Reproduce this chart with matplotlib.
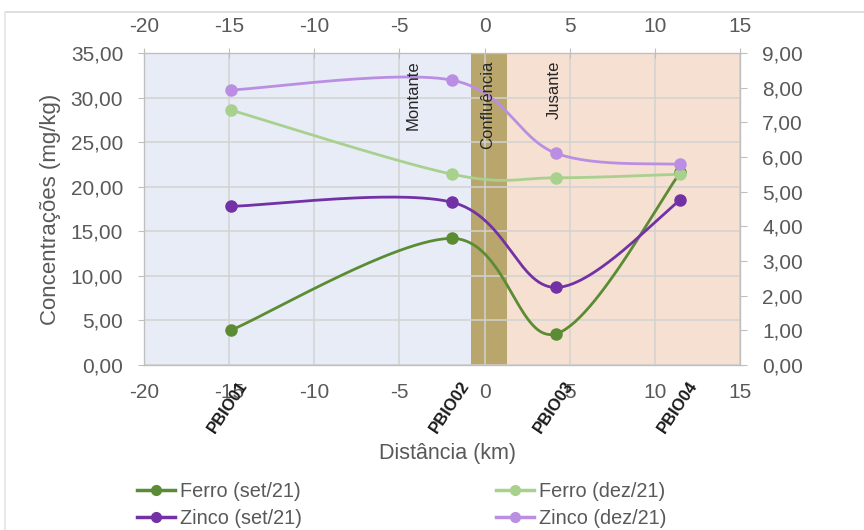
import numpy as np
import matplotlib
matplotlib.use("Agg")
import matplotlib.pyplot as plt
from matplotlib.ticker import FuncFormatter, MultipleLocator
from matplotlib.lines import Line2D

plt.rcParams['font.family'] = ['Liberation Sans', 'DejaVu Sans']
plt.rcParams['axes.unicode_minus'] = False

# sampling points (distance in km) and names
pontos = ['PBIO01', 'PBIO02', 'PBIO03', 'PBIO04']
distancia = [-14.9, -1.9, 4.2, 11.5]

# concentrations (read on left axis scale)
ferro_set = [3.9, 14.2, 3.5, 21.6]
ferro_dez = [28.6, 21.4, 21.0, 21.4]
zinco_set = [17.8, 18.25, 8.7, 18.5]
zinco_dez = [30.85, 31.95, 23.75, 22.5]

series = [
    ('Ferro (set/21)', ferro_set, '#5B8C33'),
    ('Zinco (set/21)', zinco_set, '#7232A6'),
    ('Ferro (dez/21)', ferro_dez, '#A9D18E'),
    ('Zinco (dez/21)', zinco_dez, '#BA8FE3'),
]

# zones along the river
zona_montante = (-20, -0.8)
zona_confluencia = (-0.8, 1.3)
zona_jusante = (1.3, 15)

GRAY = '#595959'
GRID = '#D2D2D2'
TICK_FS = 15


def smooth(xs, ys, n=60):
    """Excel-like smoothed line (Catmull-Rom as cubic Bezier)."""
    P = np.column_stack([xs, ys]).astype(float)
    P = np.vstack([P[0], P, P[-1]])
    out = []
    t = np.linspace(0, 1, n)[:, None]
    for i in range(1, len(P) - 2):
        p0, p1, p2, p3 = P[i - 1], P[i], P[i + 1], P[i + 2]
        c1 = p1 + (p2 - p0) / 6.0
        c2 = p2 - (p3 - p1) / 6.0
        seg = ((1 - t) ** 3) * p1 + 3 * ((1 - t) ** 2) * t * c1 \
            + 3 * (1 - t) * t ** 2 * c2 + t ** 3 * p2
        out.append(seg if i == 1 else seg[1:])
    out = np.vstack(out)
    return out[:, 0], out[:, 1]


fmt = FuncFormatter(lambda v, p: f"{v:.2f}".replace('.', ','))

fig = plt.figure(figsize=(8.64, 5.3), dpi=100)
ax = fig.add_axes([144 / 864, 1 - 365 / 530, 596 / 864, 312 / 530])

ax.axvspan(*zona_montante, color='#E8ECF7', zorder=0.1, lw=0)
ax.axvspan(*zona_confluencia, color='#B8A66C', zorder=0.1, lw=0)
ax.axvspan(*zona_jusante, color='#F6E0D1', zorder=0.1, lw=0)

ax.set_xlim(-20, 15)
ax.set_ylim(0, 35)
ax.xaxis.set_major_locator(MultipleLocator(5))
ax.yaxis.set_major_locator(MultipleLocator(5))
ax.yaxis.set_major_formatter(fmt)
ax.grid(True, color=GRID, lw=1.1)
ax.set_axisbelow(True)

handles = []
for label, vals, col in series:
    sx, sy = smooth(distancia, vals)
    ax.plot(sx, sy, color=col, lw=2, zorder=3, solid_capstyle='round')
    ax.plot(distancia, vals, 'o', color=col, ms=8, zorder=4)
    handles.append(Line2D([], [], color=col, lw=2.5, marker='o', ms=7, label=label))

for s in ax.spines.values():
    s.set_color('#BFBFBF')
ax.tick_params(axis='y', colors='#BFBFBF', labelcolor=GRAY, labelsize=TICK_FS,
               length=4, pad=11)
ax.tick_params(axis='x', colors='#BFBFBF', labelcolor=GRAY, labelsize=TICK_FS,
               length=0, pad=13)

ax.set_ylabel('Concentrações (mg/kg)', fontsize=16, color=GRAY)
ax.yaxis.set_label_coords(-0.139, 0.5)
ax.set_xlabel('Distância (km)', fontsize=15.5, color=GRAY)
ax.xaxis.set_label_coords(0.51, -0.25)

# top axis
axt = ax.twiny()
axt.set_xlim(ax.get_xlim())
axt.xaxis.set_major_locator(MultipleLocator(5))
axt.tick_params(axis='x', colors='#BFBFBF', labelcolor=GRAY, labelsize=TICK_FS,
                direction='inout', length=7, pad=9)

# right axis
axr = ax.twinx()
axr.set_ylim(0, 9)
axr.yaxis.set_major_locator(MultipleLocator(1))
axr.yaxis.set_major_formatter(fmt)
axr.tick_params(axis='y', colors='#BFBFBF', labelcolor=GRAY, labelsize=TICK_FS,
                length=5, pad=11)
for a in (axt, axr):
    for s in a.spines.values():
        s.set_color('#BFBFBF')

# zone names
for txt, xpos in [('Montante', -4.2), ('Confluência', 0.2), ('Jusante', 4.1)]:
    ax.text(xpos, 0.975, txt, transform=ax.get_xaxis_transform(), rotation=90,
            ha='center', va='top', fontsize=12, color='#262626', zorder=5)

# sampling point labels
for nome, xp in zip(pontos, distancia):
    ax.text(xp + 0.8, -0.055, nome, transform=ax.get_xaxis_transform(),
            rotation=56, rotation_mode='anchor', ha='right', va='center',
            fontsize=12, fontweight='bold', color='#1a1a1a', clip_on=False)

fig.legend(handles=handles, ncol=2, loc='upper left',
           bbox_to_anchor=(137 / 864, 1 - 482 / 530), frameon=False,
           fontsize=14.3, labelcolor=GRAY, handlelength=1.9, handletextpad=0.25,
           columnspacing=9.8, labelspacing=0.38, borderpad=0, borderaxespad=0)

# chart border
fig.add_artist(Line2D([5 / 864, 1.0], [1 - 12 / 530] * 2, color='#D9D9D9', lw=1.2,
                      transform=fig.transFigure))
fig.add_artist(Line2D([5 / 864] * 2, [1 - 12 / 530, 0.0], color='#E4E4E4', lw=1.2,
                      transform=fig.transFigure))

fig.savefig('out.png', dpi=100)
